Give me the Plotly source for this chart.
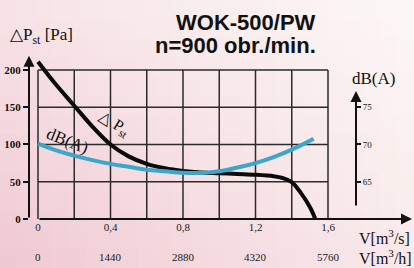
import plotly.graph_objects as go

# ---------------- data ----------------
flow_ps = [0, 0.1, 0.2, 0.3, 0.4, 0.5, 0.6, 0.7, 0.8, 0.9, 1.0, 1.1, 1.2, 1.3, 1.35, 1.4, 1.45, 1.5, 1.53]
pressure = [211, 180, 152, 124, 100, 84, 74, 68, 64.5, 62.5, 61.5, 60.5, 59.5, 57.5, 55, 49.5, 35, 16, 0]

flow_db = [0, 0.1, 0.2, 0.3, 0.4, 0.5, 0.6, 0.7, 0.8, 0.9, 1.0, 1.1, 1.2, 1.3, 1.4, 1.5, 1.52]
noise_db = [70.1, 69.2, 68.5, 67.9, 67.4, 67.0, 66.6, 66.4, 66.2, 66.2, 66.4, 66.9, 67.5, 68.3, 69.3, 70.5, 70.8]

x_ticks = [0, 0.4, 0.8, 1.2, 1.6]
x_tick_text = ["0", "0,4", "0,8", "1,2", "1,6"]
m3h_labels = ["0", "1440", "2880", "4320", "5760"]
p_ticks = [0, 50, 100, 150, 200]
db_ticks = [65, 70, 75]
grid_x = [0, 0.2, 0.4, 0.6, 0.8, 1.0, 1.2, 1.4, 1.6]
grid_y = [50, 100, 150, 200]

# ---------------- geometry ----------------
W, H = 414, 268
L, R, T, B = 29, 0, 55, 49
PX_PER_X = 181.25
X0_PX = 38
XMIN = (L - X0_PX) / PX_PER_X
XMAX = (W - R - X0_PX) / PX_PER_X
YMAX = (H - B - T) / 0.7453

SERIF = "Liberation Serif, Times New Roman, serif"
SANS = "Liberation Sans, Arial, sans-serif"

fig = go.Figure()

def mix(a, b, t):
    return tuple(a[i] + (b[i] - a[i]) * t for i in range(3))

c_tl = (247, 228, 230)
c_tr = (252, 248, 246)
c_bl = (240, 200, 210)
c_br = (249, 234, 234)
nx, ny = 24, 14
pw = W - L - R
ph = H - T - B
shapes = []
for i in range(nx):
    for j in range(ny):
        tx = (i + 0.5) / nx
        ty = (j + 0.5) / ny
        top = mix(c_tl, c_tr, tx)
        bot = mix(c_bl, c_br, tx)
        c = mix(top, bot, ty)
        x0p = i * W / nx
        x1p = (i + 1) * W / nx
        y0p = j * H / ny
        y1p = (j + 1) * H / ny
        shapes.append(dict(
            type="rect", xref="paper", yref="paper", layer="below",
            x0=(x0p - L) / pw, x1=(x1p - L) / pw + 0.003,
            y0=1 - (y1p - T) / ph - 0.003, y1=1 - (y0p - T) / ph,
            line=dict(width=0),
            fillcolor="rgb(%d,%d,%d)" % tuple(int(round(v)) for v in c),
        ))

for gx in grid_x:
    shapes.append(dict(type="line", xref="x", yref="y", layer="below",
                       x0=gx, x1=gx, y0=0, y1=200,
                       line=dict(color="#2b2b2b", width=1.5)))
for gy in grid_y:
    shapes.append(dict(type="line", xref="x", yref="y", layer="below",
                       x0=0, x1=1.6, y0=gy, y1=gy,
                       line=dict(color="#2b2b2b", width=1.5)))

fig.add_trace(go.Scatter(x=flow_db, y=noise_db, mode="lines", yaxis="y2",
                         line=dict(color="#3da6ca", width=4, shape="spline", smoothing=1.3),
                         hoverinfo="skip", showlegend=False))
fig.add_trace(go.Scatter(x=flow_ps, y=pressure, mode="lines",
                         line=dict(color="#0a0a0a", width=4, shape="spline", smoothing=1.0),
                         hoverinfo="skip", showlegend=False))

annotations = []
def arrow(x0, y0, x1, y1):
    annotations.append(dict(x=x1, y=y1, ax=x0, ay=y0, xref="x", yref="y",
                            axref="x", ayref="y", text="", showarrow=True,
                            arrowhead=2, arrowsize=1.1, arrowwidth=2,
                            arrowcolor="#111"))

arrow(XMIN, 0, XMIN, YMAX - 1)
arrow(0, 0, (412 - X0_PX) / PX_PER_X, 0)
xr = (356 - X0_PX) / PX_PER_X
arrow(xr, (219 - 207) / 0.7453, xr, (219 - 91) / 0.7453)

for v, lab in zip(x_ticks, m3h_labels):
    annotations.append(dict(x=v, y=-(257 - 219) / ph, xref="x", yref="paper",
                            text=lab, showarrow=False, xanchor="center", yanchor="middle",
                            font=dict(family=SERIF, size=11, color="#1a1a1a")))

def ptxt(text, px, py, size, family=SERIF, xanchor="center", angle=0, bold=False):
    annotations.append(dict(x=(px - L) / pw, y=1 - (py - T) / ph, xref="paper", yref="paper",
                            text=text, showarrow=False, xanchor=xanchor, yanchor="middle",
                            textangle=angle,
                            font=dict(family=family, size=size, color="#111",
                                      weight="bold" if bold else "normal")))

ptxt("WOK-500/PW", 318, 22, 22, SANS, xanchor="right", bold=True)
ptxt("n=900 obr./min.", 318, 46, 22, SANS, xanchor="right", bold=True)
ptxt("△P<sub>st</sub> [Pa]", 8, 36, 17, xanchor="left")
ptxt("dB(A)", 373, 78, 17)
ptxt("V[m<sup>3</sup>/s]", 384, 237, 16)
ptxt("V[m<sup>3</sup>/h]", 385, 257, 16)
ptxt("△ P<sub>st</sub>", 114, 124, 16, angle=32)
ptxt("dB(A)", 67, 140, 17, angle=22)

fig.update_layout(
    width=W, height=H,
    margin=dict(l=L, r=R, t=T, b=B),
    paper_bgcolor="#f6e4e6",
    plot_bgcolor="rgba(0,0,0,0)",
    shapes=shapes,
    annotations=annotations,
    showlegend=False,
    xaxis=dict(range=[XMIN, XMAX], showgrid=False, zeroline=False, showline=False,
               tickvals=x_ticks, ticktext=x_tick_text, ticks="",
               tickfont=dict(family=SERIF, size=11, color="#1a1a1a"),
               fixedrange=True),
    yaxis=dict(range=[0, YMAX], showgrid=False, zeroline=False, showline=False,
               tickvals=p_ticks, ticks="outside", ticklen=5, tickwidth=1.5,
               tickcolor="#111", tickfont=dict(family=SERIF, size=11, color="#111",
                                               weight="bold"),
               fixedrange=True),
    yaxis2=dict(range=[60, 60 + YMAX / 10], overlaying="y", side="right",
                anchor="free", position=(356 - L) / pw,
                showgrid=False, zeroline=False, showline=False,
                tickvals=db_ticks, ticks="outside", ticklen=4, tickwidth=1.5,
                tickcolor="#111", tickfont=dict(family=SERIF, size=9, color="#111"),
                fixedrange=True),
)

fig.write_html("out.html", config={"displayModeBar": False},
               post_script="document.body.style.margin='0';document.body.style.overflow='hidden';")
